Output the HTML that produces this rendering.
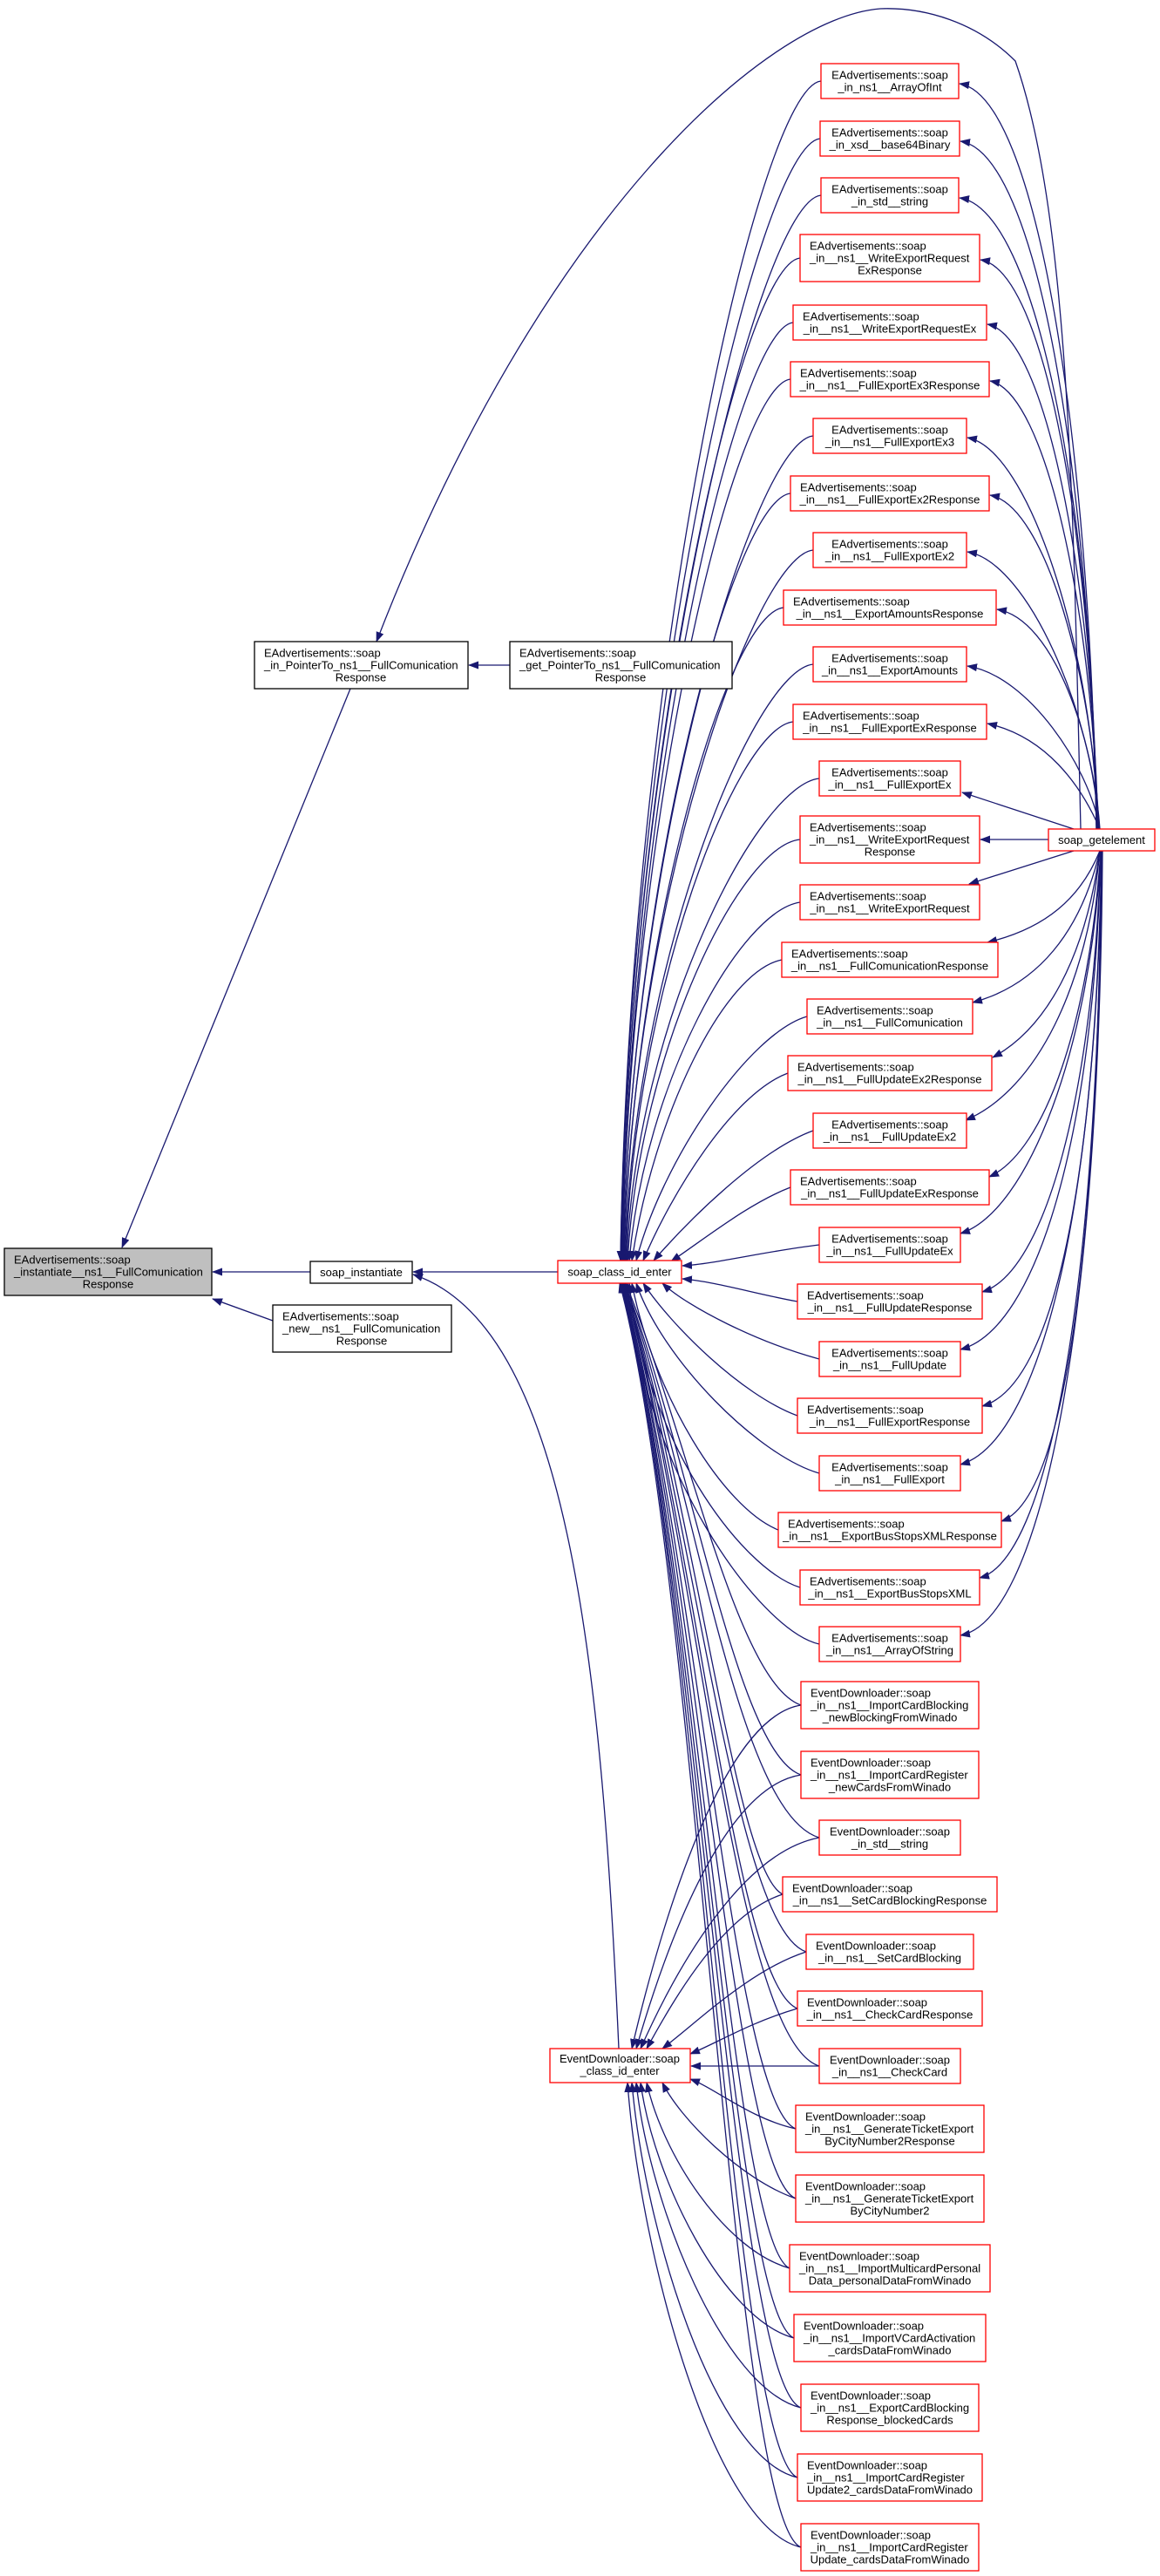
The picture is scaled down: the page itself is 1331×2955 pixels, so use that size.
<!DOCTYPE html>
<html><head><meta charset="utf-8">
<style>
html,body{margin:0;padding:0;background:#fff;}
svg{display:block;}
text{font-family:"Liberation Sans",Arial,sans-serif;font-size:13px;fill:#000;}
.e{fill:none;stroke:#191970;stroke-width:1.3;}
.r{fill:#fff;stroke:#ff0000;stroke-width:1.3;}
.b{fill:#fff;stroke:#000;stroke-width:1.3;}
.m{text-anchor:middle;}
</style></head><body>
<svg width="1331" height="2955" viewBox="0 0 1331 2955" xmlns="http://www.w3.org/2000/svg">
<defs>
<marker id="a" markerWidth="12" markerHeight="9" refX="11" refY="4.5" orient="auto" markerUnits="userSpaceOnUse">
<path d="M0,0 L12,4.5 L0,9 z" fill="#191970"/>
</marker>
</defs>
<g class="e" marker-end="url(#a)">
<path d="M402,790 L140,1431"/>
<path d="M1240,951 C1232,600 1228,250 1165,70 C1120,25 1060,8 1010,10 C880,20 620,250 432,736"/>
<path d="M585,763 L538,763"/>
<path d="M356,1459 L244,1459"/>
<path d="M313,1515 L244,1490"/>
<path d="M640,1459 L474,1459"/>
<path d="M710,2350 C690,1900 650,1520 474,1462"/>
<path d="M942,93 C870,100 722,770 712,1446"/>
<path d="M941,159 C870,166 722,802 712,1446"/>
<path d="M942,224 C870,231 722,835 713,1446"/>
<path d="M918,296 C850,303 722,871 713,1446"/>
<path d="M910,370 C845,377 723,908 714,1446"/>
<path d="M907,435 C842,442 723,940 714,1446"/>
<path d="M933,500 C865,507 724,973 715,1446"/>
<path d="M907,566 C842,573 724,1006 715,1446"/>
<path d="M933,631 C865,638 725,1038 716,1446"/>
<path d="M899,697 C835,704 726,1071 716,1446"/>
<path d="M933,762 C865,769 727,1104 717,1446"/>
<path d="M910,828 C845,835 728,1137 718,1446"/>
<path d="M940,893 C870,900 730,1170 719,1446"/>
<path d="M918,963 C850,970 735,1200 720,1446"/>
<path d="M918,1035 C850,1045 740,1240 722,1446"/>
<path d="M897,1101 C830,1115 750,1280 725,1446"/>
<path d="M926,1166 C860,1185 760,1330 730,1446"/>
<path d="M904,1231 C840,1255 770,1370 738,1446"/>
<path d="M933,1297 C870,1320 790,1400 750,1446"/>
<path d="M907,1362 C860,1380 810,1420 770,1447"/>
<path d="M940,1428 C880,1435 820,1450 783,1452"/>
<path d="M915,1493 C870,1485 820,1470 783,1467"/>
<path d="M940,1559 C870,1540 790,1500 760,1472"/>
<path d="M915,1624 C850,1600 770,1520 738,1472"/>
<path d="M940,1690 C870,1670 760,1560 730,1472"/>
<path d="M893,1755 C830,1730 750,1600 725,1472"/>
<path d="M918,1821 C850,1800 740,1650 722,1472"/>
<path d="M940,1886 C870,1870 735,1680 720,1472"/>
<path d="M919,1956 C845,1930 790,1650 718,1472"/>
<path d="M919,2036 C845,2010 795,1680 717,1472"/>
<path d="M940,2108 C845,2080 798,1710 717,1472"/>
<path d="M898,2173 C842,2145 800,1730 716,1472"/>
<path d="M925,2239 C842,2210 800,1750 716,1472"/>
<path d="M915,2304 C842,2275 800,1760 715,1472"/>
<path d="M940,2370 C842,2340 800,1770 715,1472"/>
<path d="M913,2442 C840,2412 800,1780 714,1472"/>
<path d="M913,2522 C840,2492 800,1790 714,1472"/>
<path d="M906,2602 C840,2572 800,1795 713,1472"/>
<path d="M911,2682 C840,2652 800,1800 713,1472"/>
<path d="M919,2762 C840,2732 800,1800 712,1472"/>
<path d="M915,2842 C840,2812 800,1800 712,1472"/>
<path d="M919,2922 C840,2892 800,1800 711,1472"/>
<path d="M919,1956 C830,1970 760,2200 725,2350"/>
<path d="M919,2036 C830,2050 765,2230 730,2350"/>
<path d="M940,2108 C850,2125 775,2260 735,2350"/>
<path d="M898,2173 C830,2195 775,2290 742,2350"/>
<path d="M925,2239 C860,2260 800,2320 760,2350"/>
<path d="M915,2304 C860,2320 820,2345 792,2356"/>
<path d="M940,2370 L793,2370"/>
<path d="M913,2442 C860,2430 820,2395 792,2385"/>
<path d="M913,2522 C850,2500 780,2430 760,2389"/>
<path d="M906,2602 C830,2580 760,2470 742,2389"/>
<path d="M911,2682 C830,2660 750,2500 735,2389"/>
<path d="M919,2762 C830,2740 745,2530 730,2389"/>
<path d="M915,2842 C820,2820 740,2560 725,2389"/>
<path d="M919,2922 C820,2900 735,2590 720,2389"/>
<path d="M1258,951 C1250,500 1190,110 1101,96"/>
<path d="M1258,951 C1250,540 1190,175 1102,162"/>
<path d="M1259,951 C1252,580 1190,240 1101,227"/>
<path d="M1259,951 C1252,620 1200,310 1125,298"/>
<path d="M1260,951 C1252,660 1200,385 1133,372"/>
<path d="M1260,951 C1253,700 1200,450 1136,437"/>
<path d="M1260,951 C1253,740 1180,515 1110,502"/>
<path d="M1261,951 C1254,780 1200,580 1136,568"/>
<path d="M1261,951 C1254,820 1180,645 1110,633"/>
<path d="M1262,951 C1255,850 1210,710 1144,699"/>
<path d="M1262,951 C1250,880 1180,775 1110,764"/>
<path d="M1262,951 C1240,900 1200,845 1133,830"/>
<path d="M1232,951 L1104,909"/>
<path d="M1203,963 L1125,963"/>
<path d="M1232,976 L1112,1014"/>
<path d="M1262,976 C1240,1030 1200,1065 1133,1081"/>
<path d="M1262,976 C1240,1070 1190,1130 1116,1150"/>
<path d="M1262,976 C1245,1100 1200,1180 1139,1213"/>
<path d="M1262,976 C1248,1130 1190,1250 1108,1285"/>
<path d="M1263,976 C1250,1170 1200,1320 1135,1350"/>
<path d="M1263,976 C1252,1200 1180,1390 1102,1415"/>
<path d="M1263,976 C1255,1250 1200,1460 1127,1482"/>
<path d="M1263,976 C1256,1300 1190,1525 1102,1548"/>
<path d="M1264,976 C1257,1350 1210,1590 1127,1613"/>
<path d="M1264,976 C1258,1400 1190,1655 1102,1680"/>
<path d="M1264,976 C1259,1450 1220,1720 1149,1745"/>
<path d="M1264,976 C1260,1500 1200,1790 1124,1810"/>
<path d="M1265,976 C1261,1550 1190,1860 1102,1876"/>
</g>

<rect x="5" y="1432" width="238" height="54" fill="#bfbfbf" stroke="#000" stroke-width="1.3"/>
<text x="16" y="1449.5">EAdvertisements::soap</text>
<text x="16" y="1463.5">_instantiate__ns1__FullComunication</text>
<text x="124" y="1477.5" class="m">Response</text>

<rect class="b" x="292" y="736" width="245" height="54"/>
<text x="303" y="753.5">EAdvertisements::soap</text>
<text x="303" y="767.5">_in_PointerTo_ns1__FullComunication</text>
<text x="414" y="781.5" class="m">Response</text>

<rect class="b" x="585" y="736" width="255" height="54"/>
<text x="596" y="753.5">EAdvertisements::soap</text>
<text x="596" y="767.5">_get_PointerTo_ns1__FullComunication</text>
<text x="712" y="781.5" class="m">Response</text>

<rect class="b" x="356" y="1447" width="117" height="25"/>
<text x="414.5" y="1464" class="m">soap_instantiate</text>

<rect class="b" x="313" y="1497" width="205" height="54"/>
<text x="324" y="1514.5">EAdvertisements::soap</text>
<text x="324" y="1528.5">_new__ns1__FullComunication</text>
<text x="415" y="1542.5" class="m">Response</text>

<rect class="r" x="640" y="1446" width="142" height="26"/>
<text x="711" y="1463.5" class="m">soap_class_id_enter</text>

<rect class="r" x="631" y="2350" width="161" height="39"/>
<text x="711" y="2366" class="m">EventDownloader::soap</text>
<text x="711" y="2380" class="m">_class_id_enter</text>

<rect class="r" x="1203" y="951" width="122" height="25"/>
<text x="1264" y="968" class="m">soap_getelement</text>

<g>
<rect class="r" x="942" y="73" width="158" height="40"/><text x="1021" y="90.5" class="m">EAdvertisements::soap</text><text x="1021" y="104.5" class="m">_in_ns1__ArrayOfInt</text>
<rect class="r" x="941" y="139" width="160" height="40"/><text x="1021" y="156.5" class="m">EAdvertisements::soap</text><text x="1021" y="170.5" class="m">_in_xsd__base64Binary</text>
<rect class="r" x="942" y="204" width="158" height="40"/><text x="1021" y="221.5" class="m">EAdvertisements::soap</text><text x="1021" y="235.5" class="m">_in_std__string</text>
<rect class="r" x="918" y="269" width="206" height="54"/><text x="929" y="286.5">EAdvertisements::soap</text><text x="929" y="300.5">_in__ns1__WriteExportRequest</text><text x="1021" y="314.5" class="m">ExResponse</text>
<rect class="r" x="910" y="350" width="222" height="40"/><text x="921" y="367.5">EAdvertisements::soap</text><text x="1021" y="381.5" class="m">_in__ns1__WriteExportRequestEx</text>
<rect class="r" x="907" y="415" width="228" height="40"/><text x="918" y="432.5">EAdvertisements::soap</text><text x="1021" y="446.5" class="m">_in__ns1__FullExportEx3Response</text>
<rect class="r" x="933" y="480" width="176" height="40"/><text x="1021" y="497.5" class="m">EAdvertisements::soap</text><text x="1021" y="511.5" class="m">_in__ns1__FullExportEx3</text>
<rect class="r" x="907" y="546" width="228" height="40"/><text x="918" y="563.5">EAdvertisements::soap</text><text x="1021" y="577.5" class="m">_in__ns1__FullExportEx2Response</text>
<rect class="r" x="933" y="611" width="176" height="40"/><text x="1021" y="628.5" class="m">EAdvertisements::soap</text><text x="1021" y="642.5" class="m">_in__ns1__FullExportEx2</text>
<rect class="r" x="899" y="677" width="244" height="40"/><text x="910" y="694.5">EAdvertisements::soap</text><text x="1021" y="708.5" class="m">_in__ns1__ExportAmountsResponse</text>
<rect class="r" x="933" y="742" width="176" height="40"/><text x="1021" y="759.5" class="m">EAdvertisements::soap</text><text x="1021" y="773.5" class="m">_in__ns1__ExportAmounts</text>
<rect class="r" x="910" y="808" width="222" height="40"/><text x="921" y="825.5">EAdvertisements::soap</text><text x="1021" y="839.5" class="m">_in__ns1__FullExportExResponse</text>
<rect class="r" x="940" y="873" width="162" height="40"/><text x="1021" y="890.5" class="m">EAdvertisements::soap</text><text x="1021" y="904.5" class="m">_in__ns1__FullExportEx</text>
<rect class="r" x="918" y="936" width="206" height="54"/><text x="929" y="953.5">EAdvertisements::soap</text><text x="929" y="967.5">_in__ns1__WriteExportRequest</text><text x="1021" y="981.5" class="m">Response</text>
<rect class="r" x="918" y="1015" width="206" height="40"/><text x="929" y="1032.5">EAdvertisements::soap</text><text x="1021" y="1046.5" class="m">_in__ns1__WriteExportRequest</text>
<rect class="r" x="897" y="1081" width="248" height="40"/><text x="908" y="1098.5">EAdvertisements::soap</text><text x="1021" y="1112.5" class="m">_in__ns1__FullComunicationResponse</text>
<rect class="r" x="926" y="1146" width="190" height="40"/><text x="937" y="1163.5">EAdvertisements::soap</text><text x="1021" y="1177.5" class="m">_in__ns1__FullComunication</text>
<rect class="r" x="904" y="1211" width="234" height="40"/><text x="915" y="1228.5">EAdvertisements::soap</text><text x="1021" y="1242.5" class="m">_in__ns1__FullUpdateEx2Response</text>
<rect class="r" x="933" y="1277" width="176" height="40"/><text x="1021" y="1294.5" class="m">EAdvertisements::soap</text><text x="1021" y="1308.5" class="m">_in__ns1__FullUpdateEx2</text>
<rect class="r" x="907" y="1342" width="228" height="40"/><text x="918" y="1359.5">EAdvertisements::soap</text><text x="1021" y="1373.5" class="m">_in__ns1__FullUpdateExResponse</text>
<rect class="r" x="940" y="1408" width="162" height="40"/><text x="1021" y="1425.5" class="m">EAdvertisements::soap</text><text x="1021" y="1439.5" class="m">_in__ns1__FullUpdateEx</text>
<rect class="r" x="915" y="1473" width="212" height="40"/><text x="926" y="1490.5">EAdvertisements::soap</text><text x="1021" y="1504.5" class="m">_in__ns1__FullUpdateResponse</text>
<rect class="r" x="940" y="1539" width="162" height="40"/><text x="1021" y="1556.5" class="m">EAdvertisements::soap</text><text x="1021" y="1570.5" class="m">_in__ns1__FullUpdate</text>
<rect class="r" x="915" y="1604" width="212" height="40"/><text x="926" y="1621.5">EAdvertisements::soap</text><text x="1021" y="1635.5" class="m">_in__ns1__FullExportResponse</text>
<rect class="r" x="940" y="1670" width="162" height="40"/><text x="1021" y="1687.5" class="m">EAdvertisements::soap</text><text x="1021" y="1701.5" class="m">_in__ns1__FullExport</text>
<rect class="r" x="893" y="1735" width="256" height="40"/><text x="904" y="1752.5">EAdvertisements::soap</text><text x="1021" y="1766.5" class="m">_in__ns1__ExportBusStopsXMLResponse</text>
<rect class="r" x="918" y="1801" width="206" height="40"/><text x="929" y="1818.5">EAdvertisements::soap</text><text x="1021" y="1832.5" class="m">_in__ns1__ExportBusStopsXML</text>
<rect class="r" x="940" y="1866" width="162" height="40"/><text x="1021" y="1883.5" class="m">EAdvertisements::soap</text><text x="1021" y="1897.5" class="m">_in__ns1__ArrayOfString</text>
</g>
<g>
<rect class="r" x="919" y="1929" width="204" height="54"/><text x="930" y="1946.5">EventDownloader::soap</text><text x="930" y="1960.5">_in__ns1__ImportCardBlocking</text><text x="1021" y="1974.5" class="m">_newBlockingFromWinado</text>
<rect class="r" x="919" y="2009" width="204" height="54"/><text x="930" y="2026.5">EventDownloader::soap</text><text x="930" y="2040.5">_in__ns1__ImportCardRegister</text><text x="1021" y="2054.5" class="m">_newCardsFromWinado</text>
<rect class="r" x="940" y="2088" width="162" height="40"/><text x="1021" y="2105.5" class="m">EventDownloader::soap</text><text x="1021" y="2119.5" class="m">_in_std__string</text>
<rect class="r" x="898" y="2153" width="246" height="40"/><text x="909" y="2170.5">EventDownloader::soap</text><text x="1021" y="2184.5" class="m">_in__ns1__SetCardBlockingResponse</text>
<rect class="r" x="925" y="2219" width="192" height="40"/><text x="936" y="2236.5">EventDownloader::soap</text><text x="1021" y="2250.5" class="m">_in__ns1__SetCardBlocking</text>
<rect class="r" x="915" y="2284" width="212" height="40"/><text x="926" y="2301.5">EventDownloader::soap</text><text x="1021" y="2315.5" class="m">_in__ns1__CheckCardResponse</text>
<rect class="r" x="940" y="2350" width="162" height="40"/><text x="1021" y="2367.5" class="m">EventDownloader::soap</text><text x="1021" y="2381.5" class="m">_in__ns1__CheckCard</text>
<rect class="r" x="913" y="2415" width="216" height="54"/><text x="924" y="2432.5">EventDownloader::soap</text><text x="924" y="2446.5">_in__ns1__GenerateTicketExport</text><text x="1021" y="2460.5" class="m">ByCityNumber2Response</text>
<rect class="r" x="913" y="2495" width="216" height="54"/><text x="924" y="2512.5">EventDownloader::soap</text><text x="924" y="2526.5">_in__ns1__GenerateTicketExport</text><text x="1021" y="2540.5" class="m">ByCityNumber2</text>
<rect class="r" x="906" y="2575" width="230" height="54"/><text x="917" y="2592.5">EventDownloader::soap</text><text x="917" y="2606.5">_in__ns1__ImportMulticardPersonal</text><text x="1021" y="2620.5" class="m">Data_personalDataFromWinado</text>
<rect class="r" x="911" y="2655" width="220" height="54"/><text x="922" y="2672.5">EventDownloader::soap</text><text x="922" y="2686.5">_in__ns1__ImportVCardActivation</text><text x="1021" y="2700.5" class="m">_cardsDataFromWinado</text>
<rect class="r" x="919" y="2735" width="204" height="54"/><text x="930" y="2752.5">EventDownloader::soap</text><text x="930" y="2766.5">_in__ns1__ExportCardBlocking</text><text x="1021" y="2780.5" class="m">Response_blockedCards</text>
<rect class="r" x="915" y="2815" width="212" height="54"/><text x="926" y="2832.5">EventDownloader::soap</text><text x="926" y="2846.5">_in__ns1__ImportCardRegister</text><text x="1021" y="2860.5" class="m">Update2_cardsDataFromWinado</text>
<rect class="r" x="919" y="2895" width="204" height="54"/><text x="930" y="2912.5">EventDownloader::soap</text><text x="930" y="2926.5">_in__ns1__ImportCardRegister</text><text x="1021" y="2940.5" class="m">Update_cardsDataFromWinado</text>
</g>
</svg>
</body></html>
